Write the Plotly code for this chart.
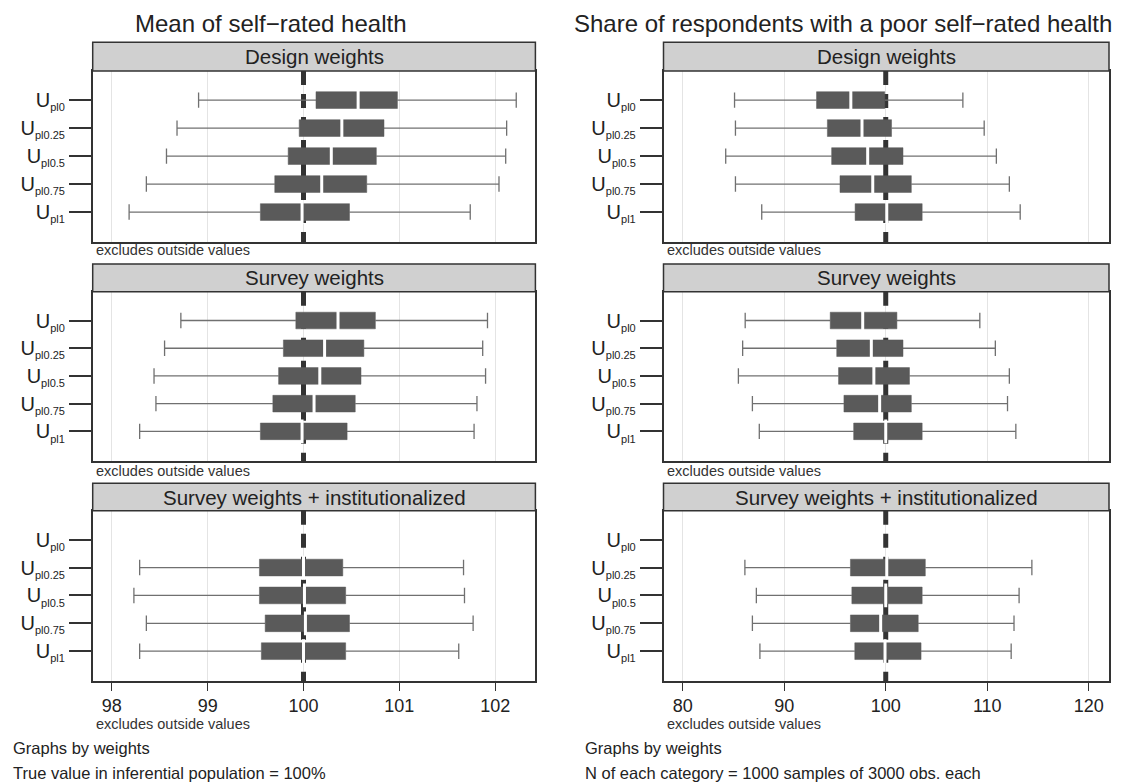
import plotly.graph_objects as go

# ---------------- data ----------------
sub_labels = ["pl0", "pl0.25", "pl0.5", "pl0.75", "pl1"]
categories = [f'U<sub><span style="font-size:11px">{s}</span></sub>' for s in sub_labels]
panel_titles = ["Design weights", "Survey weights", "Survey weights + institutionalized"]
column_titles = ["Mean of self\u2212rated health",
                 "Share of respondents with a poor self\u2212rated health"]
true_value = 100

# Mean of self-rated health
mean_design_low = [98.905, 98.68, 98.57, 98.36, 98.18]
mean_design_q1 = [100.13, 99.955, 99.84, 99.70, 99.55]
mean_design_med = [100.57, 100.40, 100.29, 100.19, 99.985]
mean_design_q3 = [100.98, 100.84, 100.76, 100.66, 100.48]
mean_design_high = [102.22, 102.12, 102.11, 102.04, 101.74]

mean_survey_low = [98.72, 98.55, 98.44, 98.46, 98.29]
mean_survey_q1 = [99.92, 99.79, 99.74, 99.68, 99.55]
mean_survey_med = [100.36, 100.22, 100.17, 100.11, 99.985]
mean_survey_q3 = [100.75, 100.63, 100.60, 100.54, 100.455]
mean_survey_high = [101.92, 101.87, 101.90, 101.81, 101.78]

mean_inst_low = [None, 98.29, 98.23, 98.36, 98.29]
mean_inst_q1 = [None, 99.54, 99.54, 99.60, 99.56]
mean_inst_med = [None, 100.0, 100.01, 100.02, 100.0]
mean_inst_q3 = [None, 100.41, 100.44, 100.48, 100.44]
mean_inst_high = [None, 101.67, 101.68, 101.77, 101.62]

# Share with poor self-rated health
share_design_low = [85.1, 85.19, 84.23, 85.19, 87.78]
share_design_q1 = [93.18, 94.25, 94.67, 95.49, 96.98]
share_design_med = [96.56, 97.66, 98.22, 98.72, 100.1]
share_design_q3 = [99.9, 100.57, 101.7, 102.52, 103.59]
share_design_high = [107.6, 109.7, 110.9, 112.18, 113.25]

share_survey_low = [86.15, 85.9, 85.48, 86.86, 87.54]
share_survey_q1 = [94.53, 95.17, 95.35, 95.88, 96.84]
share_survey_med = [97.73, 98.58, 98.83, 99.4, 100.0]
share_survey_q3 = [101.1, 101.7, 102.34, 102.52, 103.59]
share_survey_high = [109.27, 110.8, 112.18, 112.0, 112.82]

share_inst_low = [None, 86.12, 87.25, 86.86, 87.6]
share_inst_q1 = [None, 96.52, 96.66, 96.52, 96.95]
share_inst_med = [None, 100.1, 100.0, 99.5, 99.93]
share_inst_q3 = [None, 103.9, 103.59, 103.2, 103.48]
share_inst_high = [None, 114.4, 113.14, 112.64, 112.36]

mean_ticks = [98, 99, 100, 101, 102]
share_ticks = [80, 90, 100, 110, 120]

# ---------------- layout constants ----------------
W, H = 1123, 782
FONT = "Liberation Sans, Arial, Helvetica, sans-serif"
DARK = "#333333"
BOX = "#5a5a5a"
WHISK = "#707070"
GRID = "#e4e4e4"
BOX_HALF = 0.3
Y_RANGE = [5.07, -1.04]

def px_x(p):
    return p / W

def px_y(p):
    return 1 - p / H

col_dom = [[px_x(92.7), px_x(535.4)], [px_x(663.5), px_x(1109)]]
row_px = [(71, 242), (291.7, 461), (510.7, 681)]
strip_px = [(42.3, 71), (264, 291.7), (483.3, 510.7)]
note_px = [250, 470.7, 724]
col_ranges = [[97.8, 102.42], [78.1, 122.0]]
col_ticks = [mean_ticks, share_ticks]

panels = [
    [(mean_design_low, mean_design_q1, mean_design_med, mean_design_q3, mean_design_high),
     (share_design_low, share_design_q1, share_design_med, share_design_q3, share_design_high)],
    [(mean_survey_low, mean_survey_q1, mean_survey_med, mean_survey_q3, mean_survey_high),
     (share_survey_low, share_survey_q1, share_survey_med, share_survey_q3, share_survey_high)],
    [(mean_inst_low, mean_inst_q1, mean_inst_med, mean_inst_q3, mean_inst_high),
     (share_inst_low, share_inst_q1, share_inst_med, share_inst_q3, share_inst_high)],
]

fig = go.Figure()
layout = dict(
    width=W, height=H, margin=dict(l=0, r=0, t=0, b=0),
    paper_bgcolor="white", plot_bgcolor="white",
    showlegend=False,
    font=dict(family=FONT, color="#222222"),
)
shapes = []
annotations = []

pos = list(range(len(categories)))

for r in range(3):
    for c in range(2):
        idx = r * 2 + c + 1
        xa = "x" if idx == 1 else f"x{idx}"
        ya = "y" if idx == 1 else f"y{idx}"
        xkey = "xaxis" if idx == 1 else f"xaxis{idx}"
        ykey = "yaxis" if idx == 1 else f"yaxis{idx}"
        low, q1, med, q3, high = panels[r][c]
        bottom = (r == 2)
        y_top, y_bot = px_y(row_px[r][0]), px_y(row_px[r][1])

        layout[xkey] = dict(
            domain=col_dom[c], anchor=ya, range=col_ranges[c],
            tickmode="array", tickvals=col_ticks[c],
            showgrid=True, gridcolor=GRID, gridwidth=1,
            showline=True, mirror=True, linecolor=DARK, linewidth=1.5,
            zeroline=False,
            ticks="outside" if bottom else "", ticklen=8, tickwidth=1.3,
            tickcolor=DARK, showticklabels=bottom,
            tickfont=dict(size=18, family=FONT, color="#222222"),
        )
        layout[ykey] = dict(
            domain=[y_bot, y_top], anchor=xa,
            range=Y_RANGE,
            tickmode="array", tickvals=pos, ticktext=categories,
            showgrid=False, zeroline=False,
            showline=True, mirror=True, linecolor=DARK, linewidth=1.5,
            ticks="outside", ticklen=22, tickwidth=1.5, tickcolor=DARK,
            tickfont=dict(size=20, family=FONT, color="#222222"),
        )

        # true value dashed line (drawn first so boxes cover it)
        fig.add_trace(go.Scatter(
            x=[true_value, true_value], y=[Y_RANGE[1], Y_RANGE[0]],
            mode="lines", xaxis=xa, yaxis=ya,
            line=dict(color=DARK, width=5, dash="14px,9px"), hoverinfo="skip"))

        # whiskers
        wx, wy, cx, cy = [], [], [], []
        bx, byy = [], []
        for i in pos:
            if low[i] is None:
                continue
            wx += [low[i], q1[i], None, q3[i], high[i], None]
            wy += [i, i, None, i, i, None]
            cx += [low[i], high[i]]
            cy += [i, i]
            bx += [q1[i], q3[i], q3[i], q1[i], q1[i], None]
            byy += [i - BOX_HALF, i - BOX_HALF, i + BOX_HALF, i + BOX_HALF,
                    i - BOX_HALF, None]
        fig.add_trace(go.Scatter(x=wx, y=wy, mode="lines", xaxis=xa, yaxis=ya,
                                 line=dict(color=WHISK, width=1.3), hoverinfo="skip"))
        fig.add_trace(go.Scatter(x=cx, y=cy, mode="markers", xaxis=xa, yaxis=ya,
                                 marker=dict(symbol="line-ns", size=11,
                                             line=dict(color=WHISK, width=1.3)),
                                 hoverinfo="skip"))
        # boxes (interquartile range)
        fig.add_trace(go.Scatter(x=bx, y=byy, mode="lines", fill="toself",
                                 fillcolor=BOX, line=dict(color=BOX, width=0.5),
                                 xaxis=xa, yaxis=ya, hoverinfo="skip"))
        # medians (white gap)
        by = [i for i in pos if med[i] is not None]
        fig.add_trace(go.Scatter(
            x=[med[i] for i in by], y=by, mode="markers", xaxis=xa, yaxis=ya,
            marker=dict(symbol="line-ns", size=17, line=dict(color="white", width=3)),
            hoverinfo="skip"))

        # strip
        shapes.append(dict(type="rect", xref="paper", yref="paper",
                           x0=col_dom[c][0], x1=col_dom[c][1],
                           y0=px_y(strip_px[r][1]), y1=px_y(strip_px[r][0]),
                           fillcolor="#d0d0d0", line=dict(color=DARK, width=1.5),
                           layer="above"))
        annotations.append(dict(
            text=panel_titles[r], xref="paper", yref="paper",
            x=(col_dom[c][0] + col_dom[c][1]) / 2,
            y=px_y((strip_px[r][0] + strip_px[r][1]) / 2),
            xanchor="center", yanchor="middle", showarrow=False,
            font=dict(size=20.5, family=FONT, color="#222222")))
        annotations.append(dict(
            text="excludes outside values", xref="paper", yref="paper",
            x=col_dom[c][0] + px_x(1), y=px_y(note_px[r]),
            xanchor="left", yanchor="middle", showarrow=False,
            font=dict(size=14.5, family=FONT, color="#333333")))

# column titles
for c, cx_ in enumerate([271, 843]):
    annotations.append(dict(
        text=column_titles[c], xref="paper", yref="paper",
        x=px_x(cx_), y=px_y(23), xanchor="center", yanchor="middle",
        showarrow=False, font=dict(size=24, family=FONT, color="#222222")))

# footers
footers = [
    ("Graphs by weights", "True value in inferential population = 100%"),
    ("Graphs by weights", "N of each category = 1000 samples of 3000 obs. each"),
]
for c, fx in enumerate([11, 583]):
    for k, fy in enumerate([747.7, 772.7]):
        annotations.append(dict(
            text=footers[c][k], xref="paper", yref="paper",
            x=px_x(fx), y=px_y(fy), xanchor="left", yanchor="middle",
            showarrow=False, font=dict(size=16.5, family=FONT, color="#222222")))

layout["shapes"] = shapes
layout["annotations"] = annotations
fig.update_layout(**layout)
fig.write_html(
    "out.html",
    config={"displayModeBar": False},
    post_script="document.body.style.margin='0';document.body.style.overflow='hidden';",
)
